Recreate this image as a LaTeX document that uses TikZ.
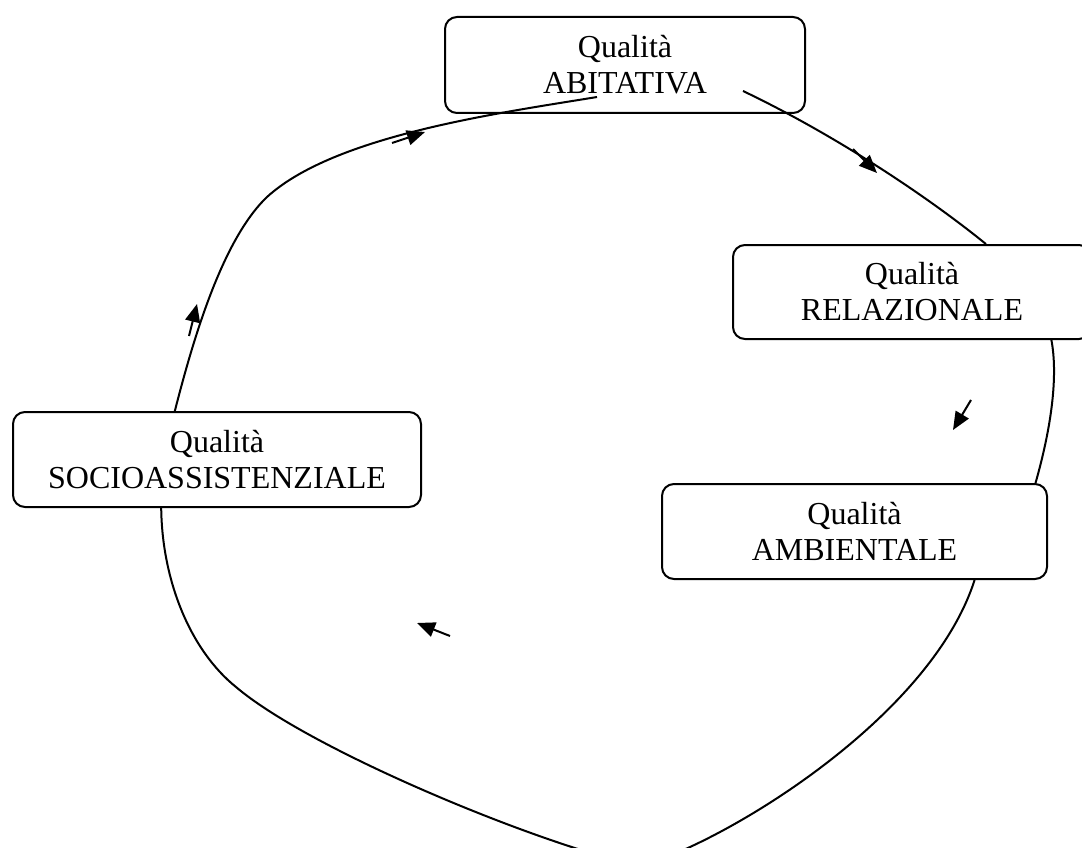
\documentclass[tikz,border=0pt]{standalone}
\usepackage{fontspec}
\setmainfont{Liberation Serif}
\usetikzlibrary{arrows.meta}
\tikzset{
  qbox/.style={draw, line width=2pt, rounded corners=12pt, align=center, inner sep=0pt,
    font=\fontsize{32}{36}\selectfont},
  flow/.style={line width=2pt},
  tipflow/.style={line width=2pt, -{Triangle[length=18pt,width=15pt]}}
}
\begin{document}
\begin{tikzpicture}[x=1pt,y=-1pt]
    \useasboundingbox (0,0) rectangle (1082,848);
    \node[qbox, minimum width=360pt, minimum height=96pt] (abit) at (625,65) {Qualità\\ABITATIVA};
    \node[qbox, minimum width=358pt, minimum height=94pt] (rel) at (912,292) {Qualità\\RELAZIONALE};
    \node[qbox, minimum width=385pt, minimum height=95pt] (amb) at (854.5,531.5) {Qualità\\AMBIENTALE};
    \node[qbox, minimum width=408pt, minimum height=95pt] (socio) at (217,459.5) {Qualità\\SOCIOASSISTENZIALE};
    \coordinate (abitin) at (597,97);
    \coordinate (abitout) at (743,91);
    % the loop
    \draw[flow] (socio.131) .. controls (193,340) and (222,240) .. (267,197)
        .. controls (335,135) and (500,113) .. (abitin);
    \draw[flow] (abitout) .. controls (831,133) and (923,193) .. (rel.33.5);
    \draw[flow] (rel.-19) .. controls (1058,375) and (1052,425) .. (amb.15.7);
    \draw[flow] (amb.-22) .. controls (930,720) and (720,845) .. (640,866)
        .. controls (540,845) and (310,750) .. (236,687)
        .. controls (190,650) and (162,580) .. (socio.221.3);
    % arrows
    \coordinate (a1) at (392,143); \coordinate (b1) at (425,132);
    \coordinate (a2) at (853,149); \coordinate (b2) at (877,173);
    \coordinate (a3) at (189,336); \coordinate (b3) at (197,304);
    \coordinate (a4) at (971,400); \coordinate (b4) at (953,430);
    \coordinate (a5) at (450,636); \coordinate (b5) at (417,623);
    \foreach \i in {1,...,5}
        \draw[tipflow] (a\i) -- (b\i);
\end{tikzpicture}
\end{document}
